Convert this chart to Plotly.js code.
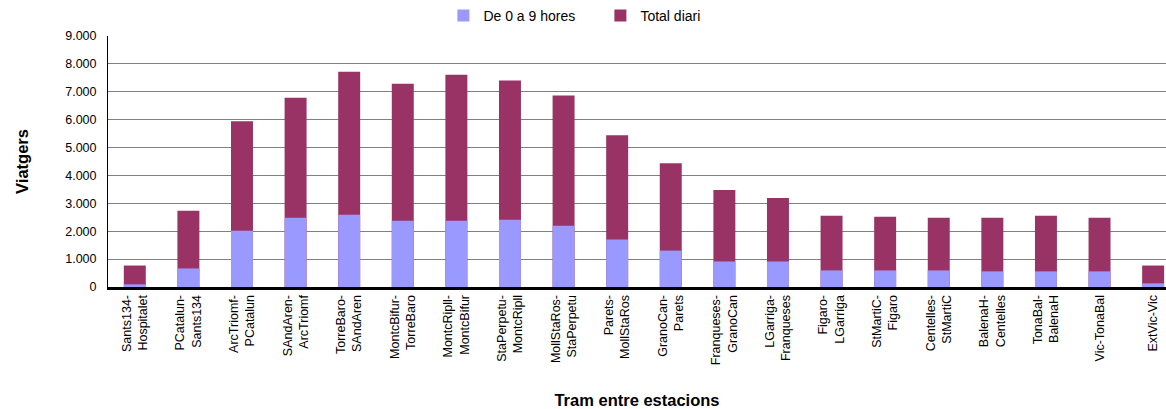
<!DOCTYPE html>
<html>
<head>
<meta charset="utf-8">
<script src="https://cdn.plot.ly/plotly-3.0.1.min.js"></script>
<style>
html, body { margin: 0; padding: 0; background: #fff; overflow: hidden; }
#chart { width: 1166px; height: 409px; }
</style>
</head>
<body>
<div id="chart"></div>
<script>
const categories = [
  "Sants134-<br>Hospitalet", "PCatalun-<br>Sants134", "ArcTriomf-<br>PCatalun", "SAndAren-<br>ArcTriomf",
  "TorreBaro-<br>SAndAren", "MontcBifur-<br>TorreBaro", "MontcRipll-<br>MontcBifur", "StaPerpetu-<br>MontcRipll",
  "MollStaRos-<br>StaPerpetu", "Parets-<br>MollStaRos", "GranoCan-<br>Parets", "Franqueses-<br>GranoCan",
  "LGarriga-<br>Franqueses", "Figaro-<br>LGarriga", "StMartiC-<br>Figaro", "Centelles-<br>StMartiC",
  "BalenaH-<br>Centelles", "TonaBal-<br>BalenaH", "Vic-TonaBal", "ExtVic-Vic"
];
const totalDiari = [770, 2730, 5940, 6790, 7720, 7290, 7610, 7400, 6865, 5440, 4440, 3480, 3195, 2555, 2520, 2480, 2480, 2555, 2480, 770];
const de0a9 = [95, 665, 2020, 2480, 2590, 2375, 2375, 2410, 2200, 1700, 1305, 915, 915, 595, 595, 595, 560, 560, 560, 130];
const yTickVals = [0, 1000, 2000, 3000, 4000, 5000, 6000, 7000, 8000, 9000];
const yTickText = ["0", "1.000", "2.000", "3.000", "4.000", "5.000", "6.000", "7.000", "8.000", "9.000"];

const font = "Liberation Sans, Arial, sans-serif";

const traces = [
  {
    type: "bar", name: "Total diari", x: categories, y: totalDiari,
    marker: { color: "#993366", line: { width: 0 } }, width: 0.41, legendrank: 2
  },
  {
    type: "bar", name: "De 0 a 9 hores", x: categories, y: de0a9,
    marker: { color: "#9999FF", line: { width: 0 } }, width: 0.41, legendrank: 1
  }
];

const layout = {
  width: 1166, height: 409,
  margin: { l: 108, r: 0, t: 35, b: 122 },
  paper_bgcolor: "#ffffff", plot_bgcolor: "#ffffff",
  barmode: "overlay",
  font: { family: font, size: 12.5, color: "#000" },
  showlegend: true,
  legend: {
    orientation: "h", x: 0.317, xanchor: "left", y: 1.079, yanchor: "middle",
    font: { family: font, size: 14, color: "#000" },
    entrywidth: 112, entrywidthmode: "pixels",
    itemwidth: 30, bgcolor: "rgba(0,0,0,0)"
  },
  xaxis: {
    type: "category",
    range: [-0.5, 19.24],
    tickangle: -90,
    ticks: "",
    showgrid: false,
    showline: true, linecolor: "#000", linewidth: 3,
    tickfont: { family: font, size: 12.5, color: "#000" },
    title: { text: "Tram entre estacions", font: { family: font, size: 16.5, color: "#000", weight: "bold" }, standoff: 31 },
    automargin: false, fixedrange: true
  },
  yaxis: {
    range: [0, 9000],
    tickvals: yTickVals, ticktext: yTickText,
    ticks: "", ticklen: 0, ticklabelstandoff: 8,
    showgrid: true, gridcolor: "#808080", gridwidth: 1,
    zeroline: false,
    showline: true, linecolor: "#000", linewidth: 1,
    tickfont: { family: font, size: 12.5, color: "#000" },
    title: { text: "Viatgers", font: { family: font, size: 16.5, color: "#000", weight: "bold" }, standoff: 32 },
    automargin: false, fixedrange: true
  }
};

Plotly.newPlot("chart", traces, layout, { displayModeBar: false, staticPlot: true });
</script>
</body>
</html>
